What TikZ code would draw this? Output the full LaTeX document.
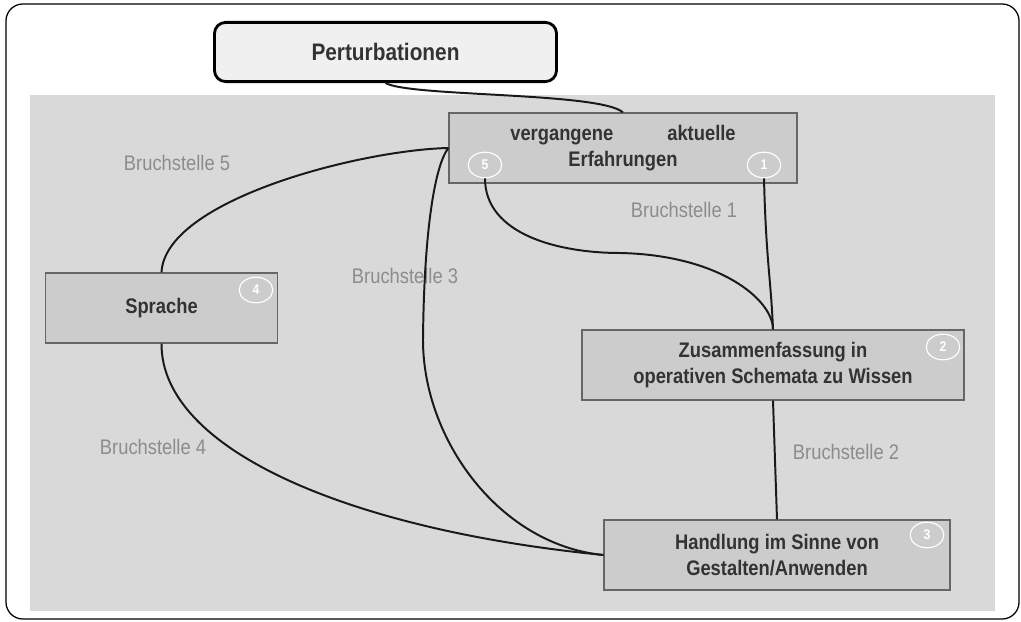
\documentclass[tikz,border=0pt]{standalone}
\usepackage{fontspec}
\setmainfont{Liberation Sans}[FakeStretch=0.87]
\usepackage{tikz}
\usetikzlibrary{shapes.geometric,positioning}

\definecolor{bggray}{HTML}{D9D9D9}
\definecolor{boxgray}{HTML}{CCCCCC}
\definecolor{boxline}{HTML}{666666}
\definecolor{textgray}{HTML}{333333}
\definecolor{labelgray}{HTML}{8C8C8C}
\definecolor{topfill}{HTML}{F0F0F0}

\tikzset{
  stage/.style={draw=boxline, fill=boxgray, line width=0.8pt, text=textgray,
    font=\bfseries\fontsize{15}{18.3}\selectfont, align=center,
    minimum height=1.75cm, inner sep=0pt},
  numring/.style={ellipse, draw=white, line width=0.8pt, minimum width=0.84cm,
    minimum height=0.64cm, inner sep=0pt, text=white,
    font=\bfseries\fontsize{10}{10}\selectfont},
  cut/.style={text=labelgray, font=\fontsize{15}{15}\selectfont},
  link/.style={line width=1.4pt, black!90}
}

\begin{document}
\begin{tikzpicture}[x=0.025cm, y=-0.025cm]
        \useasboundingbox (0,0) rectangle (1021,622);
        \draw[line width=0.9pt, rounded corners=12pt] (6,4) rectangle (1019,619);
        \fill[bggray] (30,95) rectangle (995,611);

        \node[draw=black, line width=2pt, rounded corners=8pt, fill=topfill,
          minimum width=8.55cm, minimum height=1.48cm, text=textgray,
          font=\bfseries\fontsize{17}{17}\selectfont] (perturb) at (385.5,52) {Perturbationen};

        \node[stage, minimum width=8.7cm] (erf) at (623,148) {vergangene\hspace{1.35cm}aktuelle\\Erfahrungen};
        \node[stage, minimum width=5.78cm] (sprache) at (161.5,308) {Sprache};
        \node[stage, minimum width=9.55cm] (zus) at (773,365) {Zusammenfassung in\\operativen Schemata zu Wissen};
        \node[stage, minimum width=8.65cm] (handl) at (777,555) {Handlung im Sinne von\\Gestalten/Anwenden};

        \node[numring] (n5) at (485,165) {5};
        \node[numring] (n1) at (764,165) {1};
        \node[numring] (n4) at (256,290) {4};
        \node[numring] (n2) at (943,347) {2};
        \node[numring] (n3) at (927,535) {3};

        \node[cut] (b5) at (177,163) {Bruchstelle 5};
        \node[cut] (b1) at (684,210) {Bruchstelle 1};
        \node[cut] (b3) at (405,276) {Bruchstelle 3};
        \node[cut] (b4) at (153,447) {Bruchstelle 4};
        \node[cut] (b2) at (846,452) {Bruchstelle 2};

        \draw[link] (perturb.south) .. controls (410,97) and (600,92) .. (erf.north);
        \draw[link] (erf.west) .. controls (360,150) and (165,200) .. (sprache.north);
        \draw[link] (erf.west) .. controls (435,165) and (424,230) .. (423,340)
          .. controls (423,440) and (500,545) .. (handl.west);
        \draw[link] (sprache.south) .. controls (161,450) and (350,530) .. (handl.west);
        \draw[link] (n5.south) .. controls (485,235) and (560,253) .. (620,253)
          .. controls (720,255) and (773,300) .. (zus.north);
        \draw[link] (n1.south) .. controls (766,260) and (771,280) .. (zus.north);
        \draw[link] (zus.south) -- (handl.north);
\end{tikzpicture}
\end{document}
